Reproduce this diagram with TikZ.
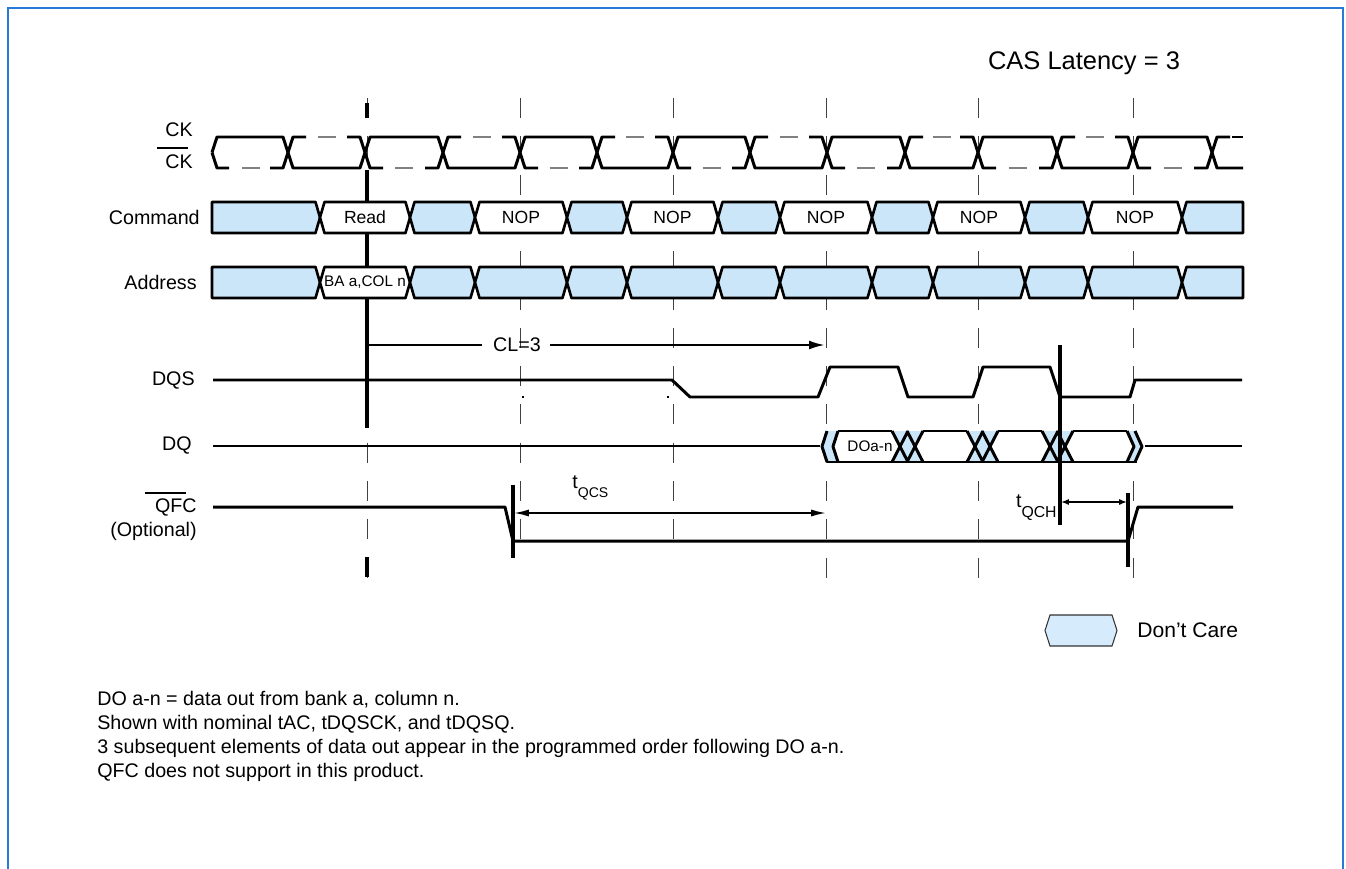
\documentclass[tikz,border=0pt]{standalone}
\usepackage{fontspec}
\setmainfont{Liberation Sans}
\usetikzlibrary{arrows.meta}
\definecolor{dcblue}{RGB}{204,230,249}
\definecolor{legblue}{RGB}{214,236,252}
\definecolor{frameblue}{RGB}{40,122,214}
\begin{document}
\begin{tikzpicture}[x=0.02cm,y=-0.02cm,
 sig/.style={line width=1.7pt,line join=round},
 bus/.style={line width=1.5pt,line join=round},
 thinmk/.style={line width=0.55pt,black!75,dash pattern=on 11.4pt off 10.4pt},
 boldmk/.style={line width=1.9pt},
 ckgray/.style={line width=1.1pt,black!50},
 lbl/.style={font=\fontsize{11.2}{13}\selectfont,inner sep=0pt},
 cmdtxt/.style={font=\fontsize{10}{12}\selectfont,inner sep=0pt},
 smalltxt/.style={font=\fontsize{8.7}{10}\selectfont,inner sep=0pt},
 arrbig/.style={line width=1.3pt},
]
\useasboundingbox (0,0) rectangle (1346,869);
% frame
\draw[frameblue,line width=1.3pt] (8,869) -- (8,8) -- (1343,8) -- (1343,869);

% vertical clock-edge markers
\foreach \x/\e in {367/580,520/545,673/545,826/580,978/580,1133/580}
  \draw[thinmk] (\x,98) -- (\x,\e);
\draw[boldmk] (367,103) -- (367,118);
\draw[boldmk] (367,557) -- (367,577);
\draw[boldmk] (367,170) -- (367,428);

% labels
\node[lbl,anchor=east] (lck) at (193,130) {CK};
\node[lbl,anchor=east] (lckn) at (193,162) {CK};
\draw[line width=1.2pt] (157,148) -- (188,148);
\node[lbl,anchor=east] (lcmd) at (200,217) {Command};
\node[lbl,anchor=east] (ladr) at (197,282) {Address};
\node[lbl,anchor=east] (ldqs) at (195,380) {DQS};
\node[lbl,anchor=east] (ldq) at (192,445) {DQ};
\node[lbl,anchor=east] (lqfc) at (197,507) {QFC};
\draw[line width=1.2pt] (145,493) -- (186,493);
\node[lbl,anchor=east] (lopt) at (197,531) {(Optional)};
\node[lbl,font=\fontsize{14.5}{16}\selectfont] (cas) at (1084,63) {CAS Latency = 3};

% clock CK (solid)
\draw[sig] (212,152.5) -- (217,137) -- (283,137) -- (293,168) -- (360,168) -- (370,137)
 -- (438,137) -- (448,168) -- (515,168) -- (525,137) -- (592,137) -- (602,168)
 -- (668,168) -- (678,137) -- (745,137) -- (755,168) -- (822,168) -- (832,137)
 -- (900,137) -- (910,168) -- (973,168) -- (983,137) -- (1052,137) -- (1062,168)
 -- (1128,168) -- (1138,137) -- (1207,137) -- (1217,168) -- (1243,168);
% clock CK# (dashed)
\draw[sig] (212,152.5) -- (217,168) -- (229,168);
\foreach \e/\a/\b in {288/168/137,365/137/168,443/168/137,520/137/168,597/168/137,673/137/168,750/168/137,827/137/168,905/168/137,978/137/168,1057/168/137,1133/137/168,1212/168/137}
  \draw[sig] (\e-18,\a) -- (\e-5,\a) -- (\e+5,\b) -- (\e+18,\b);
\draw[sig] (1232,137) -- (1243,137);
\foreach \m/\y in {251/168,326.5/137,404/168,481.5/137,558.5/168,635/137,711.5/168,788.5/137,866/168,941.5/137,1017.5/168,1095/137,1172.5/168}
  \draw[ckgray] (\m-9,\y) -- (\m+9,\y);

% Command bus
\filldraw[bus,fill=dcblue] (212,202) -- (315.5,202) -- (320,217.5) -- (315.5,233) -- (212,233) -- cycle;
\foreach \a/\b/\f in {320/410/white,410/475/dcblue,475/567/white,567/627/dcblue,627/718/white,718/780/dcblue,780/872/white,872/933/dcblue,933/1025/white,1025/1088/dcblue,1088/1182/white}
  \filldraw[bus,fill=\f] (\a,217.5) -- (\a+4.5,202) -- (\b-4.5,202) -- (\b,217.5) -- (\b-4.5,233) -- (\a+4.5,233) -- cycle;
\filldraw[bus,fill=dcblue] (1243,202) -- (1186.5,202) -- (1182,217.5) -- (1186.5,233) -- (1243,233) -- cycle;
\node[cmdtxt] (read) at (365,217.5) {Read};
\foreach \c [count=\i] in {521,672.5,826,979,1135}
  \node[cmdtxt] (nop\i) at (\c,217.5) {NOP};

% Address bus
\filldraw[bus,fill=dcblue] (212,267) -- (315.5,267) -- (320,282.5) -- (315.5,298) -- (212,298) -- cycle;
\foreach \a/\b/\f in {320/410/white,410/475/dcblue,475/567/dcblue,567/627/dcblue,627/718/dcblue,718/780/dcblue,780/872/dcblue,872/933/dcblue,933/1025/dcblue,1025/1088/dcblue,1088/1182/dcblue}
  \filldraw[bus,fill=\f] (\a,282.5) -- (\a+4.5,267) -- (\b-4.5,267) -- (\b,282.5) -- (\b-4.5,298) -- (\a+4.5,298) -- cycle;
\filldraw[bus,fill=dcblue] (1243,267) -- (1186.5,267) -- (1182,282.5) -- (1186.5,298) -- (1243,298) -- cycle;
\node[smalltxt] (bacol) at (365,282.5) {BA a,COL n};

% CL=3
\coordinate (clA) at (367,345);
\coordinate (clB) at (825,345);
\node[lbl] (cl) at (517,345) {CL=3};
\draw[arrbig] (clA) -- (482,345);
\draw[arrbig,-{Latex[length=9pt,width=5pt]}] (550,345) -- (clB);

% DQS
\draw[sig] (213,380) -- (672,380) -- (690,397) -- (818,397) -- (830,367) -- (898,367) -- (908,397)
 -- (973,397) -- (983,367) -- (1050,367) -- (1060,397) -- (1130,397) -- (1135,380) -- (1242,380);
\fill (522,396) rectangle (524,398);
\fill (667,396) rectangle (669,398);

% DQ
\draw[sig] (213,446) -- (820,446);
\fill[dcblue] (822,446.5) -- (827,431) -- (838,431) -- (833,446.5) -- (838,462) -- (827,462) -- cycle;
\fill[white] (833,446.5) -- (838,431) -- (892,431) -- (900,446.5) -- (892,462) -- (838,462) -- cycle;
\fill[white] (915,446.5) -- (923,431) -- (967,431) -- (975,446.5) -- (967,462) -- (923,462) -- cycle;
\fill[white] (990,446.5) -- (998,431) -- (1042,431) -- (1050,446.5) -- (1042,462) -- (998,462) -- cycle;
\fill[white] (1065,446.5) -- (1073,431) -- (1127,431) -- (1134,446.5) -- (1127,462) -- (1073,462) -- cycle;
\fill[dcblue] (1127,431) -- (1135,431) -- (1142,446.5) -- (1135,462) -- (1127,462) -- (1134,446.5) -- cycle;
\foreach \c/\d in {900/915,975/990,1050/1065} {
  \fill[dcblue] (\c-8,431) -- (\d+8,431) -- (\d,446.5) -- (\d+8,462) -- (\c-8,462) -- (\c,446.5) -- cycle;
  \draw[sig] (\c-8,431) -- (\c+8,462) (\c-8,462) -- (\c+8,431)
             (\d-8,431) -- (\d+8,462) (\d-8,462) -- (\d+8,431);
}
\draw[sig] (827,431) -- (822,446.5) -- (827,462);
\draw[sig] (838,431) -- (833,446.5) -- (838,462);
\draw[sig] (1127,431) -- (1134,446.5) -- (1127,462);
\draw[sig] (1135,431) -- (1142,446.5) -- (1135,462);
\draw[sig] (838,431) -- (892,431) (923,431) -- (967,431) (998,431) -- (1042,431) (1073,431) -- (1127,431);
\draw[sig] (827,462) -- (1137,462);
\draw[sig] (1145,446) -- (1242,446);
\node[smalltxt] (doan) at (870,446.5) {DOa-n};

% QFC
\draw[sig] (213,507) -- (505,507) -- (513,541) -- (1128,541) -- (1138,507) -- (1233,507);
\draw[boldmk] (513,485) -- (513,558);
\draw[boldmk] (1128,493) -- (1128,567);
\draw[boldmk] (1060,345) -- (1060,525);

% tQCS
\coordinate (qcsA) at (513,513);
\coordinate (qcsB) at (827,513);
\draw[arrbig,{Latex[length=9pt,width=4pt]}-{Latex[length=9pt,width=4pt]}] (qcsA) -- (qcsB);
\node[lbl,anchor=base west] (tqcs) at (572,488) {t\raisebox{-5.5pt}{\fontsize{8}{9}\selectfont QCS}};

% tQCH
\coordinate (qchA) at (1061,502);
\coordinate (qchB) at (1127,502);
\draw[line width=1.1pt,{Latex[length=4.5pt,width=3.5pt]}-{Latex[length=4.5pt,width=3.5pt]}] (qchA) -- (qchB);
\node[lbl,anchor=base east] (tqch) at (1057,507) {t\raisebox{-6pt}{\fontsize{9}{10}\selectfont QCH}};

% legend
\filldraw[fill=legblue,draw=black!80,line width=0.6pt] (1045,630.5) -- (1050,615) -- (1112,615) -- (1117,630.5) -- (1112,646) -- (1050,646) -- cycle;
\node[lbl,font=\fontsize{12}{14}\selectfont,anchor=west] (dc) at (1137,630.5) {Don’t Care};

% notes
\node[lbl,anchor=base west] (n1) at (97,705) {DO a-n = data out from bank a, column n.};
\node[lbl,anchor=base west] (n2) at (97,729) {Shown with nominal tAC, tDQSCK, and tDQSQ.};
\node[lbl,anchor=base west] (n3) at (97,753) {3 subsequent elements of data out appear in the programmed order following DO a-n.};
\node[lbl,anchor=base west] (n4) at (97,777) {QFC does not support in this product.};
\end{tikzpicture}
\end{document}
